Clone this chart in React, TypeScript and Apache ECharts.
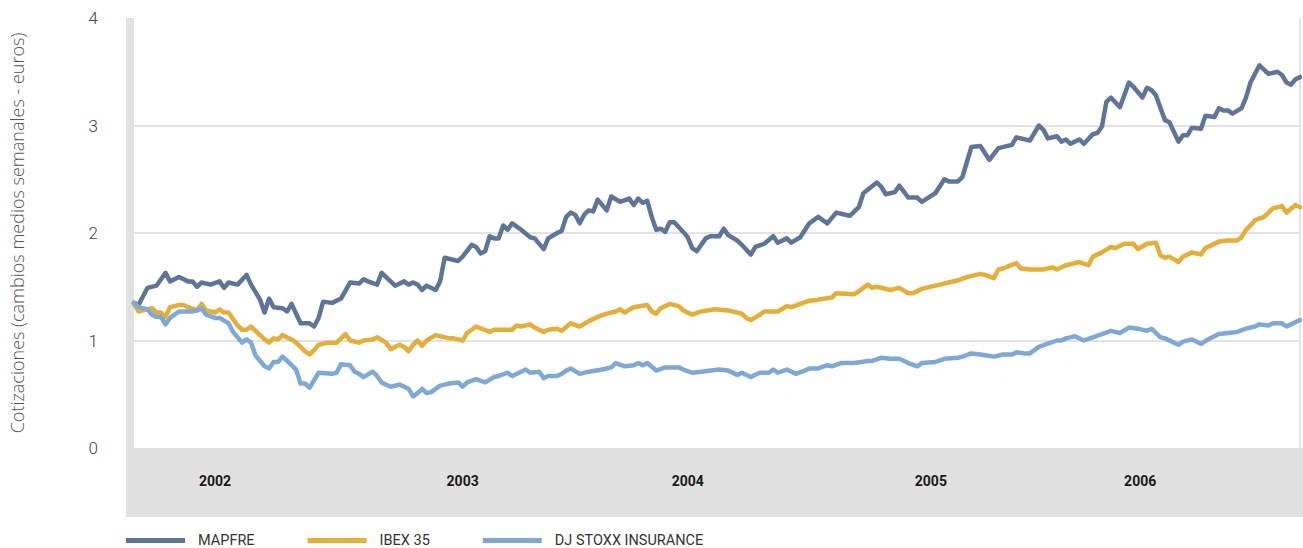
import React, { useEffect, useRef } from "react";
import * as echarts from "echarts";

// x = week index since start of 2002 (weekly average quotes), y = euros
const mapfre: [number, number][] = [
  [0,1.35],[1,1.33],[3,1.49],[5,1.51],[7,1.63],[8,1.55],[10,1.59],[12,1.55],[13,1.55],[14,1.50],[15,1.54],[17,1.52],[19,1.55],[20,1.49],[21,1.54],[23,1.52],[25,1.61],[26,1.52],[28,1.38],[29,1.26],[30,1.39],[31,1.31],[33,1.30],[34,1.27],[35,1.34],[37,1.16],[39,1.16],[40,1.13],[41,1.21],[42,1.36],[44,1.35],[46,1.39],[48,1.54],[50,1.53],[51,1.57],[52,1.55],[54,1.52],[55,1.63],[57,1.55],[58,1.51],[60,1.55],[61,1.52],[62,1.54],[63,1.52],[64,1.47],[65,1.51],[67,1.47],[68,1.55],[69,1.77],[72,1.74],[73,1.78],[75,1.89],[76,1.87],[77,1.81],[78,1.83],[79,1.97],[80,1.95],[81,1.95],[82,2.07],[83,2.03],[84,2.09],[86,2.03],[88,1.96],[89,1.95],[91,1.85],[92,1.95],[94,2.00],[95,2.02],[96,2.15],[97,2.19],[98,2.17],[99,2.09],[100,2.17],[101,2.21],[102,2.20],[103,2.31],[105,2.21],[106,2.34],[108,2.29],[110,2.32],[111,2.26],[112,2.32],[113,2.28],[114,2.30],[115,2.15],[116,2.03],[117,2.04],[118,2.01],[119,2.10],[120,2.10],[122,2.01],[123,1.96],[124,1.86],[125,1.83],[127,1.95],[128,1.97],[130,1.97],[131,2.04],[132,1.98],[134,1.93],[135,1.89],[137,1.80],[138,1.87],[140,1.90],[142,1.97],[143,1.91],[145,1.95],[146,1.91],[148,1.96],[150,2.09],[151,2.12],[152,2.15],[154,2.09],[156,2.19],[159,2.16],[161,2.24],[162,2.37],[165,2.47],[166,2.43],[167,2.36],[169,2.38],[170,2.44],[172,2.33],[174,2.33],[175,2.29],[178,2.37],[180,2.50],[181,2.48],[183,2.48],[184,2.52],[186,2.80],[188,2.81],[190,2.68],[192,2.79],[195,2.82],[196,2.89],[199,2.86],[201,3.00],[202,2.96],[203,2.88],[205,2.90],[206,2.85],[207,2.87],[208,2.83],[210,2.87],[211,2.83],[213,2.92],[214,2.93],[215,2.99],[216,3.22],[217,3.26],[219,3.17],[221,3.40],[222,3.36],[224,3.26],[225,3.35],[226,3.33],[227,3.28],[229,3.05],[230,3.03],[232,2.85],[233,2.91],[234,2.91],[235,2.98],[237,2.97],[238,3.09],[240,3.08],[241,3.16],[242,3.14],[243,3.14],[244,3.11],[246,3.16],[247,3.26],[248,3.40],[250,3.56],[252,3.48],[254,3.50],[255,3.47],[256,3.40],[257,3.38],[258,3.43],[259,3.45]
];

const ibex: [number, number][] = [
  [0,1.34],[1,1.27],[2,1.28],[4,1.30],[5,1.26],[6,1.26],[7,1.22],[8,1.31],[10,1.33],[11,1.33],[12,1.31],[14,1.28],[15,1.34],[16,1.28],[18,1.26],[19,1.29],[20,1.26],[21,1.26],[23,1.14],[24,1.10],[25,1.10],[26,1.13],[28,1.05],[29,1.01],[30,0.98],[31,1.02],[32,1.01],[33,1.05],[35,1.01],[36,0.98],[38,0.90],[39,0.87],[40,0.91],[41,0.96],[43,0.98],[45,0.98],[46,1.02],[47,1.06],[48,1.00],[50,0.98],[51,1.00],[53,1.01],[54,1.03],[56,0.98],[57,0.92],[59,0.96],[60,0.94],[61,0.90],[62,0.96],[63,1.00],[64,0.95],[65,1.00],[67,1.05],[70,1.02],[71,1.02],[73,1.00],[74,1.07],[76,1.13],[79,1.08],[80,1.10],[81,1.10],[84,1.10],[85,1.14],[86,1.13],[88,1.15],[89,1.12],[91,1.08],[92,1.10],[94,1.11],[95,1.09],[97,1.16],[99,1.13],[101,1.18],[103,1.22],[105,1.25],[107,1.27],[108,1.29],[109,1.26],[111,1.31],[114,1.33],[115,1.27],[116,1.25],[117,1.30],[119,1.34],[121,1.32],[122,1.28],[124,1.24],[126,1.27],[129,1.29],[132,1.28],[133,1.27],[135,1.25],[136,1.21],[137,1.19],[139,1.24],[140,1.27],[143,1.27],[145,1.32],[146,1.31],[148,1.34],[150,1.37],[152,1.38],[155,1.40],[156,1.44],[160,1.43],[161,1.46],[163,1.52],[164,1.49],[165,1.50],[168,1.47],[170,1.49],[172,1.44],[173,1.44],[175,1.48],[178,1.51],[181,1.54],[183,1.56],[185,1.59],[188,1.62],[189,1.61],[191,1.58],[192,1.66],[193,1.67],[196,1.72],[197,1.67],[199,1.66],[202,1.66],[204,1.68],[205,1.66],[207,1.70],[210,1.73],[212,1.70],[213,1.78],[215,1.82],[217,1.87],[218,1.86],[220,1.90],[222,1.90],[223,1.85],[225,1.90],[227,1.91],[228,1.79],[229,1.77],[230,1.78],[232,1.73],[233,1.78],[235,1.82],[237,1.80],[238,1.86],[239,1.88],[241,1.92],[243,1.93],[245,1.93],[246,1.96],[247,2.03],[248,2.07],[249,2.12],[251,2.15],[252,2.19],[253,2.23],[255,2.25],[256,2.19],[258,2.26],[259,2.24]
];

const djStoxx: [number, number][] = [
  [0,1.35],[1,1.31],[3,1.29],[4,1.24],[5,1.22],[6,1.22],[7,1.15],[8,1.21],[10,1.27],[11,1.27],[13,1.27],[14,1.28],[15,1.30],[16,1.24],[18,1.21],[19,1.21],[21,1.16],[22,1.08],[24,0.98],[25,1.01],[26,0.98],[27,0.86],[29,0.76],[30,0.74],[31,0.80],[32,0.80],[33,0.85],[35,0.77],[36,0.73],[37,0.60],[38,0.60],[39,0.56],[40,0.63],[41,0.70],[44,0.69],[45,0.70],[46,0.78],[48,0.77],[49,0.71],[50,0.69],[51,0.66],[53,0.71],[54,0.67],[55,0.61],[57,0.57],[59,0.59],[61,0.55],[62,0.48],[63,0.51],[64,0.55],[65,0.51],[66,0.52],[68,0.58],[69,0.59],[70,0.60],[72,0.61],[73,0.57],[74,0.61],[76,0.64],[78,0.61],[80,0.66],[81,0.67],[83,0.70],[84,0.67],[86,0.71],[87,0.73],[88,0.70],[90,0.71],[91,0.65],[92,0.67],[94,0.67],[95,0.69],[96,0.72],[97,0.74],[99,0.69],[101,0.71],[104,0.73],[106,0.75],[107,0.79],[109,0.76],[111,0.77],[112,0.79],[113,0.77],[114,0.79],[116,0.72],[118,0.75],[121,0.75],[122,0.73],[124,0.70],[126,0.71],[130,0.73],[132,0.72],[134,0.68],[135,0.70],[137,0.66],[139,0.70],[141,0.70],[142,0.73],[143,0.70],[145,0.73],[147,0.69],[149,0.72],[150,0.74],[152,0.74],[154,0.77],[155,0.76],[157,0.79],[160,0.79],[163,0.81],[164,0.81],[166,0.84],[168,0.83],[170,0.83],[172,0.79],[174,0.76],[175,0.79],[178,0.80],[180,0.83],[183,0.84],[184,0.85],[186,0.88],[188,0.87],[191,0.85],[193,0.87],[195,0.87],[196,0.89],[198,0.88],[199,0.88],[201,0.94],[203,0.97],[205,1.00],[206,1.00],[207,1.02],[209,1.04],[211,1.00],[213,1.03],[215,1.06],[217,1.09],[219,1.07],[221,1.12],[223,1.11],[225,1.09],[226,1.11],[228,1.03],[229,1.02],[232,0.96],[233,0.99],[235,1.01],[237,0.97],[239,1.02],[241,1.06],[243,1.07],[245,1.08],[247,1.11],[249,1.13],[250,1.15],[252,1.14],[253,1.16],[255,1.16],[256,1.13],[257,1.15],[259,1.19]
];

const seriesNames = ["MAPFRE", "IBEX 35", "DJ STOXX INSURANCE"];
const seriesColors = ["#5f7597", "#e3ae3a", "#7fa8d5"];

const yearLabels = ["2002", "2003", "2004", "2005", "2006"];
const yearLabelWeeks = [18, 73, 123, 177, 223.5];

const yTicks = [0, 1, 2, 3, 4];
const yAxisName = "Cotizaciones (cambios medios semanales - euros)";

export default function App() {
  const ref = useRef<HTMLDivElement>(null);

  useEffect(() => {
    if (!ref.current) return;
    const chart = echarts.init(ref.current, null, { renderer: "svg" });
    const font = "Roboto, 'DejaVu Sans', sans-serif";
    const datasets = [mapfre, ibex, djStoxx];

    chart.setOption({
      animation: false,
      backgroundColor: "#ffffff",
      textStyle: { fontFamily: font },
      grid: { left: 134, right: 3, top: 18, bottom: 100, containLabel: false },
      graphic: [
        { type: "rect", z: -1, shape: { x: 126, y: 18, width: 8, height: 430 }, style: { fill: "#e1e1e1" } },
        { type: "rect", z: -1, shape: { x: 126, y: 448, width: 1177, height: 69 }, style: { fill: "#e1e1e1" } },
        { type: "rect", z: -1, shape: { x: 1299, y: 18, width: 2, height: 430 }, style: { fill: "#e6e6e6" } },
      ],
      legend: {
        left: 126,
        top: 533,
        padding: 0,
        itemWidth: 59,
        itemHeight: 5,
        itemGap: 53,
        icon: "rect",
        data: seriesNames,
        textStyle: { fontFamily: font, fontSize: 14.5, color: "#333", padding: [0, 0, 0, 8] },
      },
      xAxis: {
        type: "value",
        min: 0,
        max: 259,
        axisLine: { show: false },
        axisTick: { show: false },
        splitLine: { show: false },
        axisLabel: {
          customValues: yearLabelWeeks,
          formatter: (v: number) => {
            const i = yearLabelWeeks.indexOf(v);
            return i >= 0 ? yearLabels[i] : "";
          },
          margin: 26,
          fontFamily: font,
          fontSize: 14,
          fontWeight: "bold",
          color: "#1a1a1a",
        },
      },
      yAxis: {
        type: "value",
        min: yTicks[0],
        max: yTicks[yTicks.length - 1],
        interval: 1,
        name: yAxisName,
        nameLocation: "middle",
        nameRotate: 90,
        nameGap: 108,
        nameTextStyle: { fontFamily: "'Open Sans', Roboto, sans-serif", fontSize: 18, fontWeight: 300, color: "#555" },
        axisLine: { show: false },
        axisTick: { show: false },
        axisLabel: { margin: 36, fontSize: 17, fontWeight: 300, color: "#444", fontFamily: font },
        splitLine: {
          show: true,
          lineStyle: { color: "#e3e3e3", width: 2 },
          showMinLine: false,
          showMaxLine: false,
        } as any,
      },
      series: seriesNames.map((name, i) => ({
        name,
        type: "line",
        data: datasets[i],
        showSymbol: false,
        symbol: "none",
        color: seriesColors[i],
        lineStyle: { color: seriesColors[i], width: 4.5, join: "round", cap: "round" },
        z: 2 + i,
      })),
    });

    return () => chart.dispose();
  }, []);

  return (
    <div
      ref={ref}
      style={{ position: "fixed", left: 0, top: 0, width: 1303, height: 548 }}
    />
  );
}
